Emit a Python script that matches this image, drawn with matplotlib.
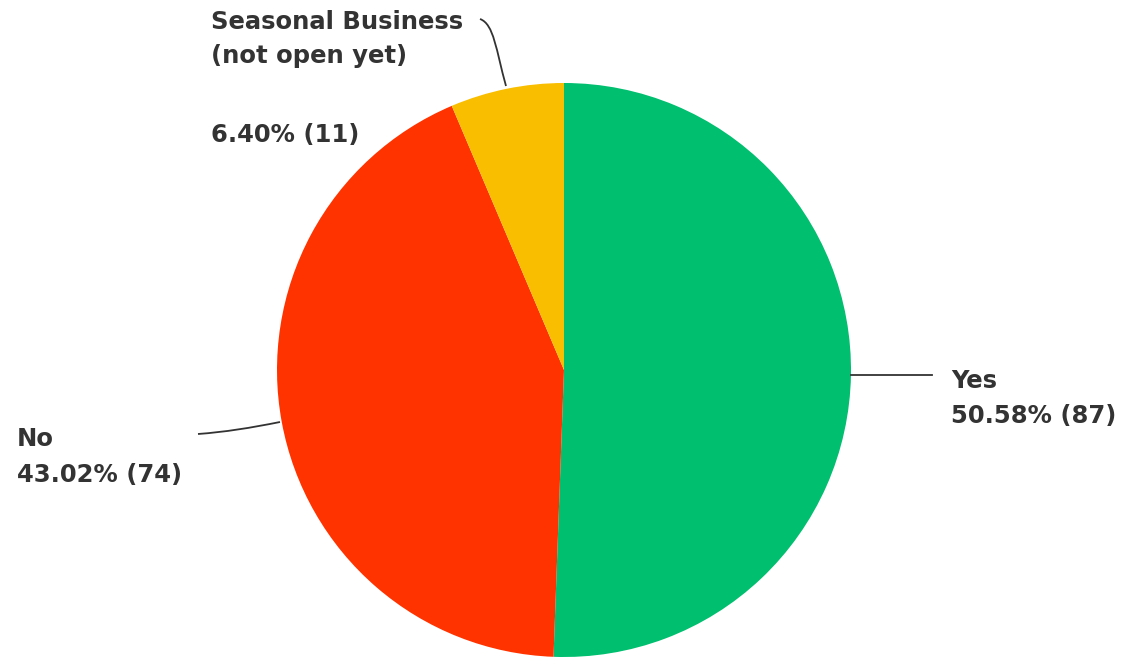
import matplotlib
matplotlib.use("Agg")
import matplotlib.pyplot as plt
from matplotlib.path import Path
from matplotlib.patches import PathPatch

labels = ["Yes", "No", "Seasonal Business", "(not open yet)"]
counts = [87, 74, 11]
percents = ["50.58%", "43.02%", "6.40%"]
colors = ["#00BF6F", "#FF3300", "#F9BE00"]

W, H = 1124, 658
fig = plt.figure(figsize=(W / 100, H / 100), dpi=100)
ax = fig.add_axes([0, 0, 1, 1])

cx, cy, r = 564, H - 370, 287
ax.pie(counts, colors=colors, startangle=90, counterclock=False,
       center=(cx, cy), radius=r, frame=True,
       wedgeprops=dict(linewidth=0))
ax.set_xlim(0, W)
ax.set_ylim(0, H)
ax.set_aspect("equal")
ax.axis("off")

font = dict(family=["DejaVu Sans"], fontsize=17.5, color="#333333",
            fontweight="bold", va="baseline", ha="left")

def y(p):
    return H - p

lc = "#333333"
# Yes label
ax.plot([851, 932], [y(375), y(375)], color=lc, lw=1.3)
ax.text(951, y(388), labels[0], **font)
ax.text(951, y(423), f"{percents[0]} ({counts[0]})", **font)

# No label
verts = [(280, y(422)), (250, y(428)), (225, y(432)), (198, y(434))]
ax.add_patch(PathPatch(Path(verts, [Path.MOVETO, Path.CURVE4, Path.CURVE4, Path.CURVE4]),
                       fill=False, color=lc, lw=1.3))
ax.text(17, y(446), labels[1], **font)
ax.text(17, y(482), f"{percents[1]} ({counts[1]})", **font)

# Seasonal label
verts = [(506, y(86)), (496, y(50)), (494, y(24)), (480, y(19))]
ax.add_patch(PathPatch(Path(verts, [Path.MOVETO, Path.CURVE4, Path.CURVE4, Path.CURVE4]),
                       fill=False, color=lc, lw=1.3))
ax.text(211, y(29), labels[2], **font)
ax.text(211, y(63), labels[3], **font)
ax.text(211, y(142), f"{percents[2]} ({counts[2]})", **font)

fig.savefig("out.png", dpi=100)
